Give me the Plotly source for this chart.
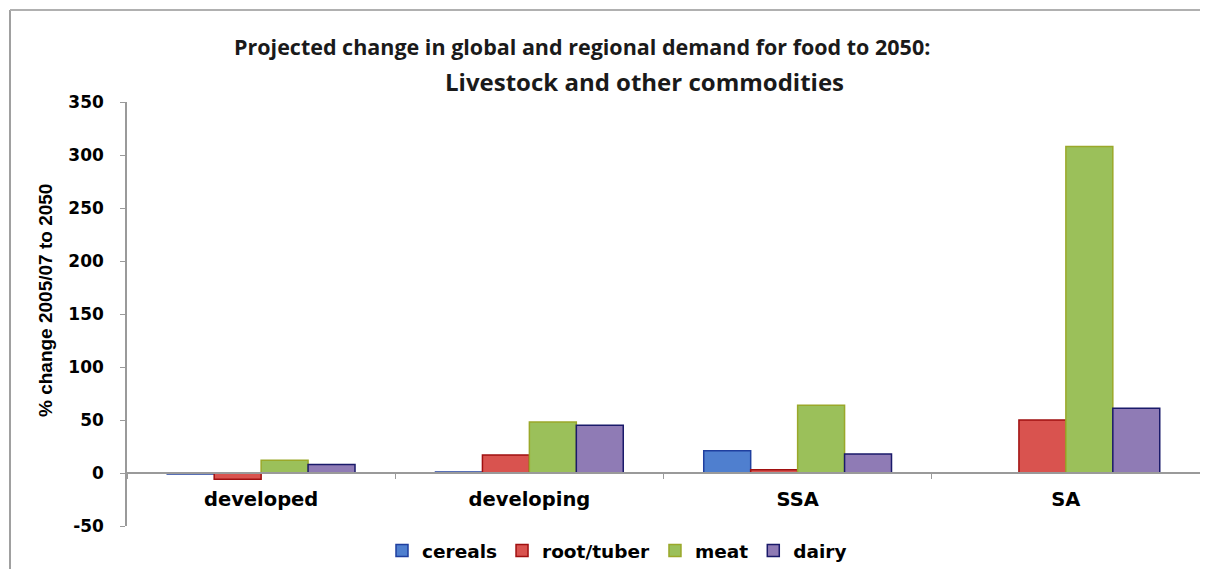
import plotly.graph_objects as go

categories = ["developed", "developing", "SSA", "SA"]
series_names = ["cereals", "root/tuber", "meat", "dairy"]
cereals = [-1, 1, 21, 0]
root_tuber = [-6, 17, 3, 50]
meat = [12, 48, 64, 308]
dairy = [8, 45, 18, 61]
y_ticks = [-50, 0, 50, 100, 150, 200, 250, 300, 350]
y_tick_labels = ["-50", "0", "50", "100", "150", "200", "250", "300", "350"]

fills = ["#4f7fcf", "#d9534f", "#9bc05a", "#8f7bb5"]
borders = ["#1f3f9f", "#a01010", "#9aa82a", "#1a1a6a"]
values = [cereals, root_tuber, meat, dairy]

fig = go.Figure()
for name, vals, fc, bc in zip(series_names, values, fills, borders):
    fig.add_trace(go.Bar(
        name=name, x=categories, y=vals,
        marker=dict(color=fc, line=dict(color=bc, width=1.5)),
    ))

# page body adds an 8px offset; targets below are given in screenshot pixels
OFF = 8
W, H = 1200, 561
ml, mr, mt, mb = 127 - OFF, 8, 102 - OFF, 43
pw = W - ml - mr
ph = H - mt - mb
ymin, ymax = -50, 350
zero_pos = (0 - ymin) / (ymax - ymin)

def px_x(x):
    return (x - OFF - ml) / pw

def px_y(y):
    return 1 - (y - OFF - mt) / ph

fig.update_layout(
    width=W, height=H,
    margin=dict(l=ml, r=mr, t=mt, b=mb, autoexpand=False),
    paper_bgcolor="white", plot_bgcolor="white",
    barmode="group", bargap=0.3, bargroupgap=0,
    font=dict(family="DejaVu Sans", color="black"),
    showlegend=True,
    legend=dict(orientation="h", x=px_x(382), xanchor="left", y=px_y(551), yanchor="middle",
                font=dict(family="DejaVu Sans", size=18.5, color="black", weight="bold"),
                itemwidth=30, traceorder="normal", tracegroupgap=0,
                bgcolor="rgba(0,0,0,0)"),
    xaxis=dict(
        anchor="free", position=zero_pos,
        showline=True, linecolor="#9a9a9a", linewidth=1.5,
        ticks="outside", tickson="boundaries", ticklen=5, tickcolor="#9a9a9a",
        ticklabelstandoff=9,
        tickfont=dict(family="DejaVu Sans", size=19.5, color="black", weight="bold"),
        showgrid=False, zeroline=False,
    ),
    yaxis=dict(
        range=[ymin, ymax], tickvals=y_ticks, ticktext=y_tick_labels,
        showline=True, linecolor="#9a9a9a", linewidth=1.5,
        ticks="outside", ticklen=5, tickcolor="#9a9a9a",
        ticklabelstandoff=13,
        tickfont=dict(family="DejaVu Sans", size=17, color="black", weight="bold"),
        showgrid=False, zeroline=False,
    ),
    annotations=[
        dict(text="Projected change in global and regional demand for food to 2050:",
             xref="paper", yref="paper", x=px_x(582), y=px_y(47),
             xanchor="center", yanchor="middle",
             showarrow=False, font=dict(family="Open Sans", size=21.5, color="#1a1a1a", weight="bold")),
        dict(text="Livestock and other commodities",
             xref="paper", yref="paper", x=px_x(644), y=px_y(82),
             xanchor="center", yanchor="middle",
             showarrow=False, font=dict(family="Open Sans", size=24, color="#1a1a1a", weight="bold")),
        dict(text="% change 2005/07 to 2050",
             xref="paper", yref="paper", x=px_x(45), y=px_y(301),
             xanchor="center", yanchor="middle", textangle=-90,
             showarrow=False, font=dict(family="Liberation Sans", size=19, color="black", weight="bold")),
    ],
    shapes=[
        dict(type="line", xref="paper", yref="paper",
             x0=px_x(10), x1=px_x(10), y0=px_y(10), y1=px_y(575),
             line=dict(color="#a0a0a0", width=2)),
        dict(type="line", xref="paper", yref="paper",
             x0=px_x(10), x1=px_x(1215), y0=px_y(10), y1=px_y(10),
             line=dict(color="#b0b0b0", width=2)),
    ],
)

fig.write_html("out.html")
